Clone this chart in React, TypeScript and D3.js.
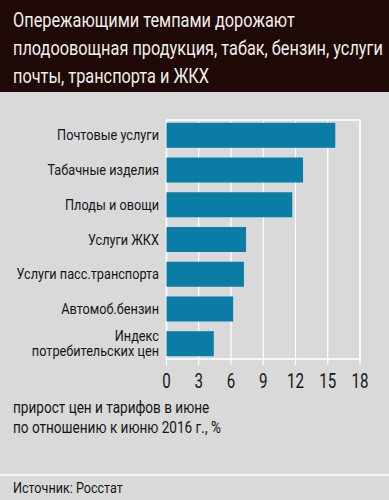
import { useRef, useEffect } from 'react';
import * as d3 from 'd3';

const categories = [
  'Почтовые услуги',
  'Табачные изделия',
  'Плоды и овощи',
  'Услуги ЖКХ',
  'Услуги пасс.транспорта',
  'Автомоб.бензин',
  'Индекс \nпотребительских цен',
];
const values = [15.7, 12.7, 11.7, 7.4, 7.2, 6.2, 4.4];
const ticks = [0, 3, 6, 9, 12, 15, 18];
const titleLines = [
  'Опережающими темпами дорожают',
  'плодоовощная продукция, табак, бензин, услуги',
  'почты, транспорта и ЖКХ',
];
const axisTitleLines = ['прирост цен и тарифов в июне', 'по отношению к июню 2016 г., %'];
const source = 'Источник: Росстат';

const FONT = "Roboto, 'Noto Sans', sans-serif";

export default function App() {
  const svgRef = useRef<SVGSVGElement | null>(null);

  useEffect(() => {
    const width = 389, height = 500;
    const svg = d3.select(svgRef.current);
    svg.selectAll('*').remove();
    svg.attr('width', width).attr('height', height);

    // ширина текста, чтобы сжать шрифт под узкий оригинал
    const measure = (s: string, size: number) => {
      const t = svg.append('text').style('font-family', FONT).style('font-size', size + 'px').text(s);
      const w = (t.node() as SVGTextElement).getComputedTextLength();
      t.remove();
      return w;
    };
    const addText = (
      parent: d3.Selection<any, unknown, null, undefined>,
      s: string, x: number, y: number, size: number, sx: number,
      fill: string, anchor = 'start'
    ) => parent.append('text')
      .attr('transform', `translate(${x},${y}) scale(${sx},1)`)
      .attr('text-anchor', anchor)
      .attr('fill', fill)
      .style('font-family', FONT)
      .style('font-size', size + 'px')
      .text(s);

    // фон
    svg.append('rect').attr('width', width).attr('height', height).attr('fill', '#d9d9d9');
    svg.append('rect').attr('width', width).attr('height', 92).attr('fill', '#1e0907');
    svg.append('rect').attr('y', 474).attr('width', width).attr('height', 2).attr('fill', '#f4f4f4');

    // заголовок
    const titleSize = 20.5;
    const titleSx = 370 / measure(titleLines[1], titleSize);
    titleLines.forEach((s, i) => addText(svg, s, 13, 26.5 + i * 28, titleSize, titleSx, '#f2eeea'));

    const x = d3.scaleLinear().domain([0, 18]).range([166.5, 360]);
    const y = d3.scaleBand<string>()
      .domain(categories)
      .range([120, 359])
      .paddingInner(0.28)
      .paddingOuter(0.08);

    const g = svg.append('g');

    // сетка и тики
    g.selectAll('line.grid')
      .data(ticks)
      .join('line')
      .attr('class', 'grid')
      .attr('x1', d => x(d))
      .attr('x2', d => x(d))
      .attr('y1', 120)
      .attr('y2', 365)
      .attr('stroke', '#ffffff')
      .attr('stroke-width', 1.2);

    // рамка
    g.append('rect')
      .attr('x', x(0))
      .attr('y', 120)
      .attr('width', x(18) - x(0))
      .attr('height', 239)
      .attr('fill', 'none')
      .attr('stroke', '#ffffff')
      .attr('stroke-width', 1.5);

    // столбцы
    g.selectAll('rect.bar')
      .data(categories)
      .join('rect')
      .attr('class', 'bar')
      .attr('x', x(0))
      .attr('y', d => y(d)!)
      .attr('width', (_, i) => x(values[i]) - x(0))
      .attr('height', y.bandwidth())
      .attr('fill', '#0a7ca6');

    // подписи категорий
    const labSize = 14.5;
    const labSx = 102 / measure(categories[0], labSize);
    categories.forEach(c => {
      const lines = c.split('\n');
      const cy = y(c)! + y.bandwidth() / 2;
      const lh = 14.5;
      lines.forEach((line, j) => {
        addText(g, line, 159, cy + (j - (lines.length - 1) / 2) * lh + 5, labSize, labSx, '#151515', 'end');
      });
    });

    // подписи оси
    const tickSize = 19.5;
    const tickSx = 17 / measure('18', tickSize);
    ticks.forEach(d => addText(g, String(d), x(d), 388, tickSize, tickSx, '#151515', 'middle'));

    const axSize = 16;
    const axSx = 208 / measure(axisTitleLines[1], axSize);
    axisTitleLines.forEach((s, i) => addText(svg, s, 13, 413 + i * 19.5, axSize, axSx, '#151515'));

    const srcSize = 15.5;
    const srcSx = 110 / measure(source, srcSize);
    addText(svg, source, 13, 492.5, srcSize, srcSx, '#151515');
  }, []);

  return <svg ref={svgRef} style={{ position: 'absolute', left: 0, top: 0, display: 'block' }}></svg>;
}
